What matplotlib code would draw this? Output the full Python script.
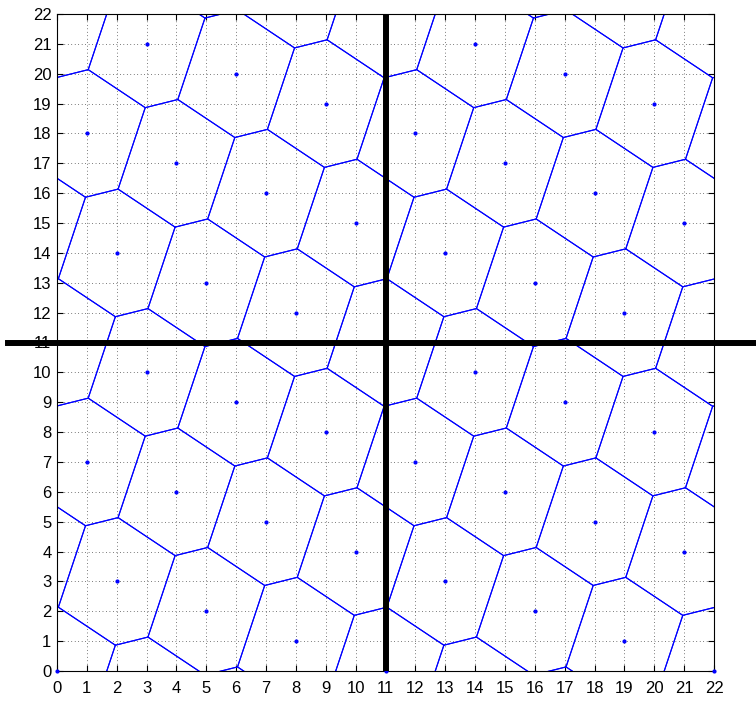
import numpy as np
import matplotlib
matplotlib.use('Agg')
from matplotlib import pyplot as plt

# one 11x11 tile of generator points, repeated with period 11
base_x = [0, 1, 2, 3, 4, 5, 6, 7, 8, 9, 10]
base_y = [0, 7, 3, 10, 6, 2, 9, 5, 1, 8, 4]
period = 11
ticks = list(range(0, 23))

plt.rcParams['font.family'] = ['Liberation Sans', 'DejaVu Sans']


def tile_points(shifts):
    pts = []
    for i in shifts:
        for j in shifts:
            for bx, by in zip(base_x, base_y):
                pts.append((bx + i * period, by + j * period))
    return np.array(pts, dtype=float)


def clip_half(poly, p, q):
    # keep the part of poly that is closer to p than to q
    m = (p + q) / 2
    n = q - p
    out = []
    k = len(poly)
    for a in range(k):
        s, e = poly[a], poly[(a + 1) % k]
        ds, de = np.dot(s - m, n), np.dot(e - m, n)
        if ds <= 0:
            out.append(s)
        if ds * de < 0:
            t = ds / (ds - de)
            out.append(s + t * (e - s))
    return out


def voronoi_cell(p, pts):
    r = 12
    poly = [p + np.array(v) for v in [(-r, -r), (r, -r), (r, r), (-r, r)]]
    for q in pts:
        d = np.hypot(*(q - p))
        if 0 < d < 9:
            poly = clip_half(poly, p, q)
    return np.array(poly)


all_pts = tile_points([-1, 0, 1, 2])
fig = plt.figure(figsize=(7.56, 7.02), dpi=100)
ax = fig.add_axes([57 / 756, 31 / 702, 657 / 756, 657 / 702])

for p in all_pts:
    if -4 <= p[0] <= 26 and -4 <= p[1] <= 26:
        cell = voronoi_cell(p, all_pts)
        cell = np.vstack([cell, cell[:1]])
        ax.plot(cell[:, 0], cell[:, 1], color='blue', lw=0.8)

shown = [(x, y) for x, y in all_pts if 0 <= x <= 22 and 0 <= y <= 22 and not (y == 22)]
sx, sy = zip(*shown)
ax.plot(sx, sy, '.', color='blue', ms=4, clip_on=False, zorder=5)

ax.plot([11, 11], [0, 22], color='black', lw=4.3, zorder=6)
ax.plot([-1.65, 23.6], [11, 11], color='black', lw=4.3, clip_on=False, zorder=6)

ax.set_xlim(0, 22)
ax.set_ylim(0, 22)
ax.set_xticks(ticks)
ax.set_yticks(ticks)
ax.tick_params(direction='in', top=True, right=True, labelsize=12, length=4)
ax.tick_params(axis='x', pad=7)
ax.tick_params(axis='y', pad=4)
ax.grid(True, color='black', linestyle=(0, (1, 4)), linewidth=0.5)
for s in ax.spines.values():
    s.set_linewidth(0.8)

fig.savefig('out.png', dpi=100)
